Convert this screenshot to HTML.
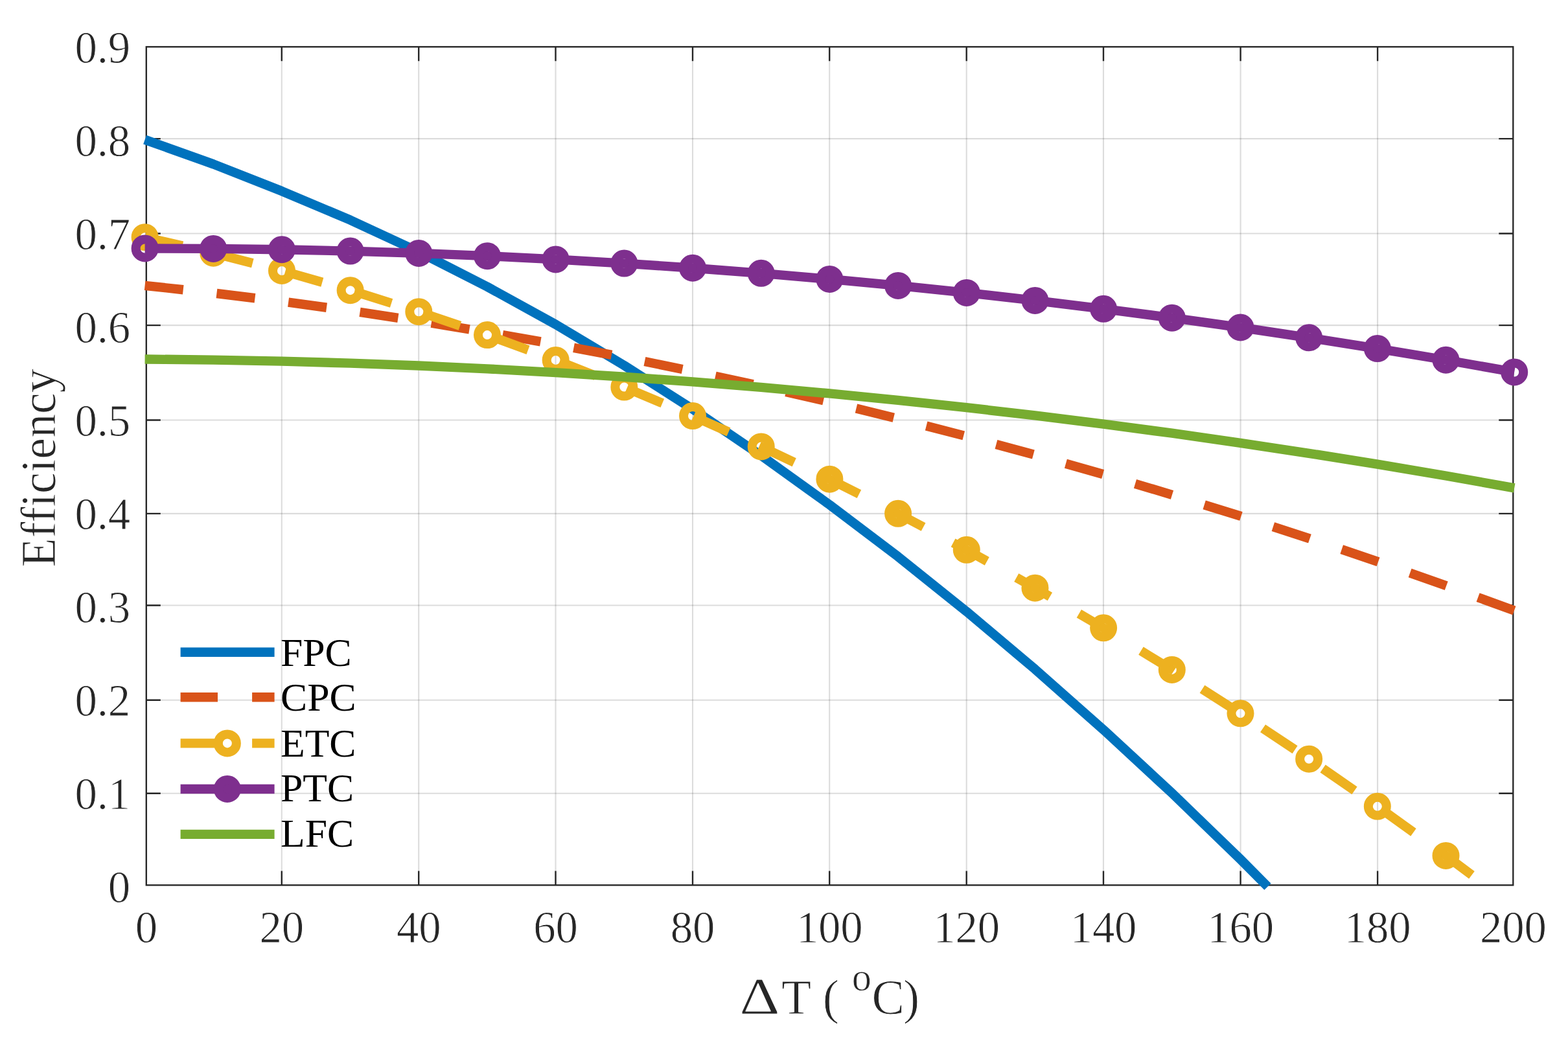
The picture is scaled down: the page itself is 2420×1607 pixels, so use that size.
<!DOCTYPE html>
<html lang="en"><head><meta charset="utf-8"><title>Collector efficiency</title>
<style>html,body{margin:0;padding:0;background:#fff;overflow:hidden}svg{display:block}text{font-family:"Liberation Serif",serif;stroke:#fff;stroke-width:0.9;stroke-linejoin:round}</style>
</head><body>
<svg width="2420" height="1607" viewBox="0 0 2420 1607">
<rect x="0" y="0" width="2420" height="1607" fill="#fff"/>
<path d="M434.80 72.30V1366.40M646.20 72.30V1366.40M857.50 72.30V1366.40M1069.00 72.30V1366.40M1280.20 72.30V1366.40M1491.70 72.30V1366.40M1703.00 72.30V1366.40M1914.60 72.30V1366.40M2126.10 72.30V1366.40" stroke="#262626" stroke-opacity="0.160" stroke-width="2.10" fill="none"/>
<path d="M225.80 1224.80H2335.30M225.80 1080.80H2335.30M225.80 934.50H2335.30M225.80 792.90H2335.30M225.80 648.50H2335.30M225.80 502.10H2335.30M225.80 360.50H2335.30M225.80 214.10H2335.30" stroke="#262626" stroke-opacity="0.160" stroke-width="2.10" fill="none"/>
<path d="M434.80 1366.40v-22.00M434.80 72.30v22.00M646.20 1366.40v-22.00M646.20 72.30v22.00M857.50 1366.40v-22.00M857.50 72.30v22.00M1069.00 1366.40v-22.00M1069.00 72.30v22.00M1280.20 1366.40v-22.00M1280.20 72.30v22.00M1491.70 1366.40v-22.00M1491.70 72.30v22.00M1703.00 1366.40v-22.00M1703.00 72.30v22.00M1914.60 1366.40v-22.00M1914.60 72.30v22.00M2126.10 1366.40v-22.00M2126.10 72.30v22.00M225.80 1224.80h22.00M2335.30 1224.80h-22.00M225.80 1080.80h22.00M2335.30 1080.80h-22.00M225.80 934.50h22.00M2335.30 934.50h-22.00M225.80 792.90h22.00M2335.30 792.90h-22.00M225.80 648.50h22.00M2335.30 648.50h-22.00M225.80 502.10h22.00M2335.30 502.10h-22.00M225.80 360.50h22.00M2335.30 360.50h-22.00M225.80 214.10h22.00M2335.30 214.10h-22.00" stroke="#262626" stroke-width="2.36" fill="none"/>
<rect x="225.80" y="72.30" width="2109.50" height="1294.10" fill="none" stroke="#262626" stroke-width="2.36"/>
<g font-size="68.80" fill="#262626" text-anchor="middle" letter-spacing="-0.20">
<text x="225.80" y="1455.00">0</text>
<text x="434.80" y="1455.00">20</text>
<text x="646.20" y="1455.00">40</text>
<text x="857.50" y="1455.00">60</text>
<text x="1069.00" y="1455.00">80</text>
<text x="1280.20" y="1455.00">100</text>
<text x="1491.70" y="1455.00">120</text>
<text x="1703.00" y="1455.00">140</text>
<text x="1914.60" y="1455.00">160</text>
<text x="2126.10" y="1455.00">180</text>
<text x="2335.30" y="1455.00">200</text>
</g>
<g font-size="68.80" fill="#262626" letter-spacing="-0.20">
<text x="166.70" y="1393.40">0</text>
<text x="115.50" y="1249.31">0.1</text>
<text x="115.50" y="1105.22">0.2</text>
<text x="115.50" y="961.13">0.3</text>
<text x="115.50" y="817.04">0.4</text>
<text x="115.50" y="672.95">0.5</text>
<text x="115.50" y="528.86">0.6</text>
<text x="115.50" y="384.77">0.7</text>
<text x="115.50" y="240.68">0.8</text>
<text x="115.50" y="96.59">0.9</text>
</g>
<text transform="translate(1141.30 1565.00) scale(1.2850 1.0780)" font-size="75.50" fill="#262626">Δ</text>
<text x="1206.10" y="1565.00" font-size="75.50" fill="#262626">T ( <tspan font-size="60.40" dx="0.90" dy="-35.90">o</tspan><tspan dx="0.60" dy="35.90">C</tspan><tspan dx="-1.90">)</tspan></text>
<text transform="translate(84.60 875.50) rotate(-90)" font-size="75.50" fill="#262626" textLength="306.30" lengthAdjust="spacingAndGlyphs">Efficiency</text>
<polyline points="223.60,215.63 329.28,253.40 434.96,295.05 540.64,339.66 646.32,388.75 752.00,442.62 857.68,500.86 963.36,564.07 1069.04,631.56 1174.72,703.22 1280.40,779.25 1386.08,859.36 1491.76,944.04 1597.44,1033.09 1703.12,1126.52 1808.80,1224.32 1914.48,1326.49 1956.44,1368.80" fill="none" stroke="#0072BD" stroke-width="14.40" stroke-linejoin="round" stroke-linecap="butt"/>
<polyline points="223.60,440.80 329.28,452.36 434.96,465.34 540.64,479.75 646.32,495.58 752.00,512.84 857.68,531.52 963.36,551.63 1069.04,573.16 1174.72,596.12 1280.40,620.50 1386.08,646.31 1491.76,673.54 1597.44,702.19 1703.12,732.27 1808.80,763.78 1914.48,796.71 2020.16,831.07 2125.84,866.85 2231.52,904.05 2337.20,942.68" fill="none" stroke="#D95319" stroke-width="14.40" stroke-linejoin="round" stroke-linecap="butt" stroke-dasharray="59.50 52.00"/>
<polyline points="223.60,366.20 329.28,390.65 434.96,417.97 540.64,448.16 646.32,481.21 752.00,517.12 857.68,555.91 963.36,597.55 1069.04,642.07 1174.72,689.45 1280.40,739.70 1386.08,792.81 1491.76,848.79 1597.44,907.64 1703.12,969.35 1808.80,1033.92 1914.48,1101.37 2020.16,1171.68 2125.84,1244.85 2231.52,1320.90 2295.68,1368.80" fill="none" stroke="#EDB120" stroke-width="14.40" stroke-linejoin="round" stroke-linecap="butt" stroke-dasharray="59.50 52.00"/>
<g fill="none" stroke="#EDB120" stroke-width="14.00"><circle cx="223.60" cy="366.20" r="14.00"/><circle cx="329.28" cy="390.65" r="14.00"/><circle cx="434.96" cy="417.97" r="14.00"/><circle cx="540.64" cy="448.16" r="14.00"/><circle cx="646.32" cy="481.21" r="14.00"/><circle cx="752.00" cy="517.12" r="14.00"/><circle cx="857.68" cy="555.91" r="14.00"/><circle cx="963.36" cy="597.55" r="14.00"/><circle cx="1069.04" cy="642.07" r="14.00"/><circle cx="1174.72" cy="689.45" r="14.00"/><circle cx="1280.40" cy="739.70" r="14.00"/><circle cx="1386.08" cy="792.81" r="14.00"/><circle cx="1491.76" cy="848.79" r="14.00"/><circle cx="1597.44" cy="907.64" r="14.00"/><circle cx="1703.12" cy="969.35" r="14.00"/><circle cx="1808.80" cy="1033.92" r="14.00"/><circle cx="1914.48" cy="1101.37" r="14.00"/><circle cx="2020.16" cy="1171.68" r="14.00"/><circle cx="2125.84" cy="1244.85" r="14.00"/><circle cx="2231.52" cy="1320.90" r="14.00"/></g>
<polyline points="223.60,383.46 329.28,383.88 434.96,385.26 540.64,387.60 646.32,390.90 752.00,395.17 857.68,400.39 963.36,406.58 1069.04,413.73 1174.72,421.83 1280.40,430.90 1386.08,440.93 1491.76,451.92 1597.44,463.88 1703.12,476.79 1808.80,490.66 1914.48,505.50 2020.16,521.29 2125.84,538.05 2231.52,555.77 2337.20,574.45" fill="none" stroke="#7E2F8E" stroke-width="14.40" stroke-linejoin="round" stroke-linecap="butt"/>
<g fill="none" stroke="#7E2F8E" stroke-width="14.00"><circle cx="223.60" cy="383.46" r="14.00"/><circle cx="329.28" cy="383.88" r="14.00"/><circle cx="434.96" cy="385.26" r="14.00"/><circle cx="540.64" cy="387.60" r="14.00"/><circle cx="646.32" cy="390.90" r="14.00"/><circle cx="752.00" cy="395.17" r="14.00"/><circle cx="857.68" cy="400.39" r="14.00"/><circle cx="963.36" cy="406.58" r="14.00"/><circle cx="1069.04" cy="413.73" r="14.00"/><circle cx="1174.72" cy="421.83" r="14.00"/><circle cx="1280.40" cy="430.90" r="14.00"/><circle cx="1386.08" cy="440.93" r="14.00"/><circle cx="1491.76" cy="451.92" r="14.00"/><circle cx="1597.44" cy="463.88" r="14.00"/><circle cx="1703.12" cy="476.79" r="14.00"/><circle cx="1808.80" cy="490.66" r="14.00"/><circle cx="1914.48" cy="505.50" r="14.00"/><circle cx="2020.16" cy="521.29" r="14.00"/><circle cx="2125.84" cy="538.05" r="14.00"/><circle cx="2231.52" cy="555.77" r="14.00"/><circle cx="2337.20" cy="574.45" r="14.00"/></g>
<polyline points="223.60,554.50 329.28,555.61 434.96,557.64 540.64,560.60 646.32,564.50 752.00,569.33 857.68,575.08 963.36,581.76 1069.04,589.38 1174.72,597.92 1280.40,607.40 1386.08,617.80 1491.76,629.14 1597.44,641.41 1703.12,654.60 1808.80,668.73 1914.48,683.78 2020.16,699.76 2125.84,716.68 2231.52,734.52 2337.20,753.30" fill="none" stroke="#77AC30" stroke-width="14.40" stroke-linejoin="round" stroke-linecap="butt"/>
<line x1="278.60" y1="1006.70" x2="423.60" y2="1006.70" stroke="#0072BD" stroke-width="14.40"/>
<text x="433.00" y="1028.40" font-size="61.70" fill="#000" style="stroke:none">FPC</text>
<line x1="278.60" y1="1076.30" x2="423.60" y2="1076.30" stroke="#D95319" stroke-width="14.40" stroke-dasharray="57.40 53.10"/>
<text x="433.00" y="1097.40" font-size="61.70" fill="#000" style="stroke:none">CPC</text>
<line x1="278.60" y1="1147.40" x2="423.60" y2="1147.40" stroke="#EDB120" stroke-width="14.40" stroke-dasharray="57.40 53.10"/>
<circle cx="350.85" cy="1147.40" r="14.00" fill="none" stroke="#EDB120" stroke-width="14.00"/>
<text x="433.00" y="1167.60" font-size="61.70" fill="#000" style="stroke:none">ETC</text>
<line x1="278.60" y1="1218.00" x2="423.60" y2="1218.00" stroke="#7E2F8E" stroke-width="14.40"/>
<circle cx="350.85" cy="1218.00" r="14.00" fill="none" stroke="#7E2F8E" stroke-width="14.00"/>
<text x="433.00" y="1237.20" font-size="61.70" fill="#000" style="stroke:none">PTC</text>
<line x1="278.60" y1="1287.90" x2="423.60" y2="1287.90" stroke="#77AC30" stroke-width="14.40"/>
<text x="433.00" y="1307.00" font-size="61.70" fill="#000" style="stroke:none">LFC</text>
</svg></body></html>
